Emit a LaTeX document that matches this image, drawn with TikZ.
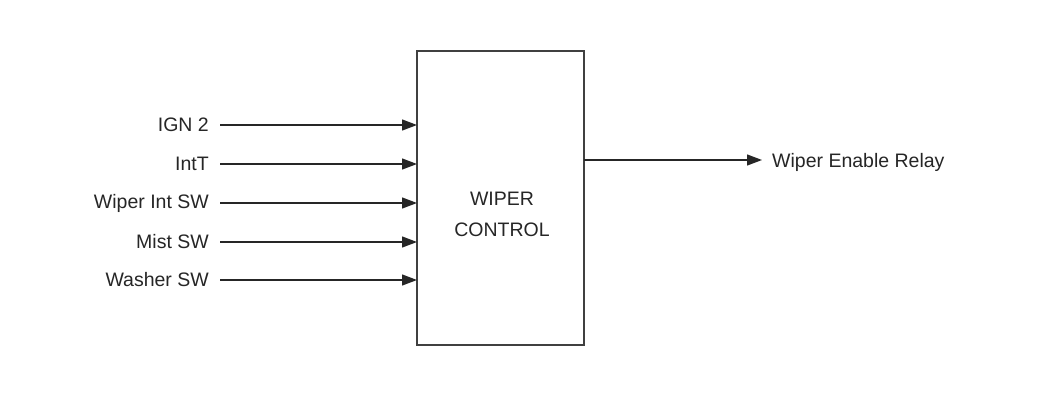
\documentclass[tikz,border=0pt]{standalone}
\usepackage{fontspec}
\setmainfont{Liberation Sans}
\usetikzlibrary{arrows.meta}
\begin{document}
\begin{tikzpicture}[x=1pt,y=-1pt,
  lbl/.style={font=\fontsize{19.5}{31}\selectfont, text=black!85, inner sep=0pt},
  sig/.style={line width=1.3pt, draw=black!85, -{Triangle[length=15pt,width=11pt]}},
  blk/.style={draw=black!75, line width=1.4pt}]
\useasboundingbox (0,0) rectangle (1050,396);
\fill[white] (0,0) rectangle (1050,396);
\draw[blk] (417,51) rectangle (584,345);
\node[lbl, align=center] (ctl) at (502,214) {WIPER\\CONTROL};
\foreach \n/\t/\y in {a/IGN 2/125, b/IntT/164, c/Wiper Int SW/203, d/Mist SW/242, e/Washer SW/280}{
  \node[lbl, anchor=east] (\n) at (209,\y) {\t};
  \coordinate (\n s) at (220,\y);
  \coordinate (\n e) at (417,\y);
  \draw[sig] (\n s) -- (\n e);
}
\coordinate (os) at (584,160);
\coordinate (oe) at (762,160);
\node[lbl, anchor=west] (out) at (772,162) {Wiper Enable Relay};
\draw[sig] (os) -- (oe);
\end{tikzpicture}
\end{document}
